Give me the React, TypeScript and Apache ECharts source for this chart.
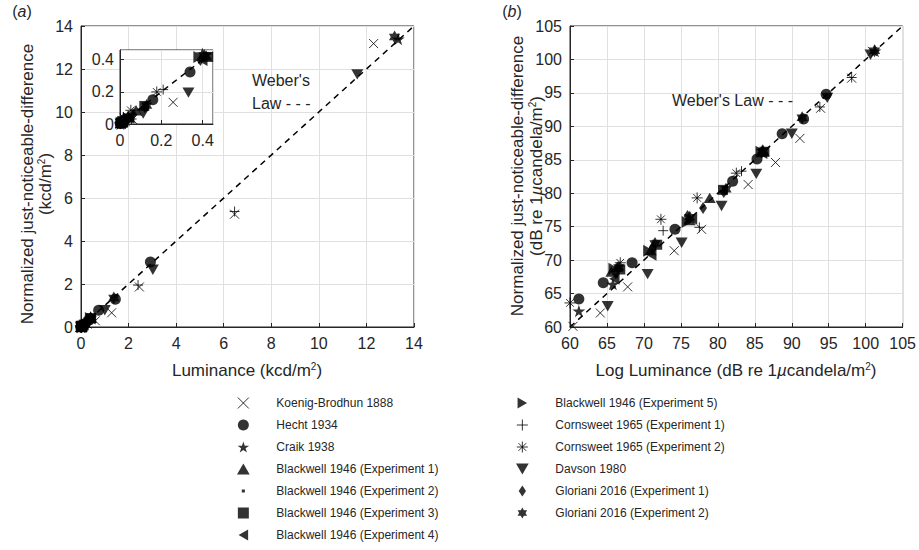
import React, { useEffect, useRef } from "react";
import * as echarts from "echarts";

const FONT = "'Liberation Sans', Arial, Helvetica, sans-serif";
const INK = "#262626";
const GRIDC = "#e0e0e0";

// ---- data (dB re 1 µcd/m²) : [log luminance, normalized JND] ----
const seriesNames = [
  "Koenig-Brodhun 1888",
  "Hecht 1934",
  "Craik 1938",
  "Blackwell 1946 (Experiment 1)",
  "Blackwell 1946 (Experiment 2)",
  "Blackwell 1946 (Experiment 3)",
  "Blackwell 1946 (Experiment 4)",
  "Blackwell 1946 (Experiment 5)",
  "Cornsweet 1965 (Experiment 1)",
  "Cornsweet 1965 (Experiment 2)",
  "Davson 1980",
  "Gloriani 2016 (Experiment 1)",
  "Gloriani 2016 (Experiment 2)",
];

const koenig = [[60.4, 60.1], [64.1, 62.1], [67.8, 66.0], [74.1, 71.4], [77.8, 74.6], [84.1, 81.3], [87.8, 84.6], [91.1, 88.2], [93.9, 92.7], [98.1, 97.2], [100.9, 101.2]];
const hecht = [[61.2, 64.2], [64.5, 66.6], [68.4, 69.6], [74.2, 74.6], [82.0, 81.8], [85.3, 85.1], [88.7, 88.9], [91.6, 91.1], [94.65, 94.8]];
const craik = [[61.2, 62.4], [65.8, 66.4], [86.0, 86.4], [101.25, 101.27]];
const blackwell1 = [[65.6, 68.3], [66.4, 69.0], [70.9, 71.5], [76.2, 76.0], [78.9, 79.3], [86.2, 86.3]];
const blackwell2 = [[66.3, 67.6], [71.4, 72.1], [76.1, 76.4], [81.2, 81.0], [86.1, 86.4]];
const blackwell3 = [[66.8, 68.6], [71.8, 72.3], [80.7, 80.5], [86.3, 86.2]];
const blackwell4 = [[66.0, 67.2], [71.0, 70.8], [76.5, 76.2], [86.0, 86.0]];
const blackwell5 = [[65.9, 68.7], [70.6, 71.4], [75.8, 75.7], [85.8, 86.2]];
const cornsweet1 = [[72.6, 74.4], [77.5, 74.9], [83.2, 83.3], [93.8, 92.9], [98.1, 97.3]];
const cornsweet2 = [[60.0, 63.6], [66.8, 69.6], [72.3, 76.1], [77.2, 79.3], [82.5, 83.0]];
const davson = [[65.1, 63.1], [70.5, 67.9], [75.1, 72.6], [80.5, 78.1], [85.2, 82.9], [90.0, 88.9], [94.8, 94.25], [100.65, 100.7]];
const gloriani1 = [[66.2, 68.0], [71.2, 71.9], [75.9, 76.6], [78.0, 77.8], [80.8, 80.2], [85.9, 86.0]];
const gloriani2 = [[66.6, 68.9], [71.5, 72.5], [76.2, 76.4], [81.1, 80.6], [86.1, 86.3], [91.4, 91.3], [101.2, 101.3]];

const allData = [koenig, hecht, craik, blackwell1, blackwell2, blackwell3, blackwell4, blackwell5, cornsweet1, cornsweet2, davson, gloriani1, gloriani2];

// axis ranges [min, max, interval]
const linRange = [0, 14, 2];
const insetXRange = [0, 0.45, 0.2];
const insetYRange = [0, 0.46, 0.2];
const dbRange = [60, 105, 5];

// dB re 1 µcd/m²  ->  kcd/m²  (1 kcd/m² = 90 dB)
const dbToKcd = (d: number) => Math.pow(10, (d - 90) / 10);

// ---- marker shapes ----
function starPath(n: number, rOut: number, rIn: number) {
  let d = "";
  for (let i = 0; i < 2 * n; i++) {
    const a = -Math.PI / 2 + (i * Math.PI) / n;
    const r = i % 2 === 0 ? rOut : rIn;
    d += (i === 0 ? "M" : "L") + (10 + r * Math.cos(a)).toFixed(2) + "," + (10 + r * Math.sin(a)).toFixed(2);
  }
  return "path://" + d + "Z";
}
const CROSS = "path://M0,0L10,10M10,0L0,10";
const PLUS = "path://M5,0L5,10M0,5L10,5";
const ASTER = "path://M5,0L5,10M0,5L10,5M1.5,1.5L8.5,8.5M8.5,1.5L1.5,8.5";
const STAR5 = starPath(5, 10, 3.9);
const HEX = "path://M5,0L9.33,7.5L0.67,7.5Z M5,10L0.67,2.5L9.33,2.5Z";
const TRI_UP = "path://M5,0L10,8.66L0,8.66Z";
const TRI_DOWN = "path://M0,0L10,0L5,8.66Z";
const TRI_LEFT = "path://M8.66,0L8.66,10L0,5Z";
const TRI_RIGHT = "path://M0,0L0,10L8.66,5Z";
const SQUARE = "path://M0,0L10,0L10,10L0,10Z";
const DIAMOND = "path://M4,0L8,6L4,12L0,6Z";
const DOT_ICON = "path://M0,0L0.01,0M10,10L10.01,10M3.6,3.6L6.4,3.6L6.4,6.4L3.6,6.4Z";

const markerStyles: any[] = [
  { symbol: CROSS, size: 9, hollow: true },
  { symbol: "circle", size: 11 },
  { symbol: STAR5, size: 13 },
  { symbol: TRI_UP, size: 12 },
  { symbol: SQUARE, size: 3, legendIcon: DOT_ICON },
  { symbol: SQUARE, size: 10 },
  { symbol: TRI_LEFT, size: 12 },
  { symbol: TRI_RIGHT, size: 12 },
  { symbol: PLUS, size: 10, hollow: true },
  { symbol: ASTER, size: 11, hollow: true },
  { symbol: TRI_DOWN, size: 12 },
  { symbol: DIAMOND, size: 12 },
  { symbol: HEX, size: 13 },
];

const itemStyleFor = (s: any) =>
  s.hollow
    ? { color: "transparent", borderColor: "#000", borderWidth: 1 }
    : { color: "#000", borderColor: "#000", borderWidth: 0 };

function axisCfg(r: number[], grid: number, opts: any = {}) {
  return {
    type: "value",
    gridIndex: grid,
    min: r[0],
    max: r[1],
    interval: r[2],
    axisLine: { show: true, onZero: false, lineStyle: { color: INK, width: 1 } },
    axisTick: { show: true, inside: true, length: 4, lineStyle: { color: INK } },
    splitLine: { show: true, lineStyle: { color: GRIDC, width: 1 } },
    axisLabel: { fontSize: 16, color: INK, fontFamily: FONT, margin: opts.margin ?? 8, showMaxLabel: opts.showMax !== false },
    ...opts.extra,
  };
}

export default function App() {
  const ref = useRef<HTMLDivElement>(null);
  useEffect(() => {
    if (!ref.current) return;
    const chart = echarts.init(ref.current, null, { renderer: "svg" });

    const panels = [
      { xi: 0, yi: 0, conv: dbToKcd, keep: (p: number[]) => true, z: 2 },
      { xi: 1, yi: 1, conv: dbToKcd, keep: (p: number[]) => p[0] <= insetXRange[1] && p[1] <= insetYRange[1], z: 7 },
      { xi: 2, yi: 2, conv: (d: number) => d, keep: (p: number[]) => true, z: 2 },
    ];

    const series: any[] = [];
    panels.forEach((pn, k) => {
      const lim = k === 2 ? [dbRange[0], dbRange[1]] : k === 1 ? [0, insetXRange[1]] : [linRange[0], linRange[1]];
      series.push({
        type: "line",
        xAxisIndex: pn.xi,
        yAxisIndex: pn.yi,
        data: [[lim[0], lim[0]], [lim[1], lim[1]]],
        symbol: "none",
        silent: true,
        z: pn.z - 1,
        lineStyle: { color: "#000", width: 1.5, type: [6, 5] },
      });
    });
    allData.forEach((arr, i) => {
      const st = markerStyles[i];
      panels.forEach((pn) => {
        series.push({
          type: "scatter",
          name: seriesNames[i],
          xAxisIndex: pn.xi,
          yAxisIndex: pn.yi,
          symbol: st.symbol,
          symbolSize: st.size,
          symbolKeepAspect: true,
          z: pn.z,
          itemStyle: itemStyleFor(st),
          data: arr.map((p) => [pn.conv(p[0]), pn.conv(p[1])]).filter(pn.keep),
        });
      });
    });

    const legendItem = (i: number) => ({
      name: seriesNames[i],
      icon: markerStyles[i].legendIcon || markerStyles[i].symbol,
      itemStyle: itemStyleFor(markerStyles[i]),
    });
    const legendCommon = {
      orient: "vertical",
      itemWidth: 56,
      itemHeight: 11,
      itemGap: 8,
      height: 175,
      padding: 0,
      selectedMode: false,
      textStyle: { fontSize: 12, color: INK, fontFamily: FONT, lineHeight: 14 },
    };

    const richBase = {
      sup: { fontSize: 10, verticalAlign: "top", fontFamily: FONT, fill: INK, color: INK, lineHeight: 10 },
      mu: { fontSize: 17, fontStyle: "italic", fontFamily: FONT, fill: INK, color: INK },
      it: { fontSize: 16, fontStyle: "italic", fontFamily: FONT, fill: INK, color: INK },
    };
    const txt = (text: string, x: number, y: number, extra: any = {}, rot = 0) => ({
      type: "text",
      x,
      y,
      rotation: rot,
      z: 20,
      style: {
        text,
        fontSize: 17,
        fontFamily: FONT,
        fill: INK,
        align: "center",
        verticalAlign: "middle",
        rich: richBase,
        ...extra,
      },
    });

    const option: any = {
      animation: false,
      backgroundColor: "#fff",
      grid: [
        { left: 81, top: 26, width: 333, height: 301, show: true, borderColor: INK, borderWidth: 1, backgroundColor: "#fff" },
        { left: 120, top: 50, width: 93, height: 74, show: true, borderColor: INK, borderWidth: 1, backgroundColor: "#fff", z: 4 },
        { left: 570, top: 26, width: 333, height: 301, show: true, borderColor: INK, borderWidth: 1, backgroundColor: "#fff" },
      ],
      xAxis: [
        axisCfg(linRange, 0),
        axisCfg(insetXRange, 1, { showMax: false, extra: { z: 5 } }),
        axisCfg(dbRange, 2),
      ],
      yAxis: [
        axisCfg(linRange, 0),
        axisCfg(insetYRange, 1, { showMax: false, margin: 6, extra: { z: 5 } }),
        axisCfg(dbRange, 2),
      ],
      legend: [
        { ...legendCommon, left: 237, top: 396, data: [0, 1, 2, 3, 4, 5, 6].map(legendItem) },
        { ...legendCommon, left: 516, top: 396, data: [7, 8, 9, 10, 11, 12].map(legendItem) },
      ],
      graphic: [
        txt("({it|a})", 22, 11, { fontSize: 16 }),
        txt("({it|b})", 512, 11, { fontSize: 16 }),
        txt("Luminance (kcd/m{sup|2})", 247, 370),
        txt("Log Luminance (dB re 1{mu|µ}candela/m{sup|2})", 736, 370),
        txt("Normalized just-noticeable-difference", 27, 184, {}, Math.PI / 2),
        txt("(kcd/m{sup|2})", 45, 184, {}, Math.PI / 2),
        txt("Normalized just-noticeable-difference", 517, 176, {}, Math.PI / 2),
        txt("(dB re 1{mu|µ}candela/m{sup|2})", 536, 176, {}, Math.PI / 2),
        txt("Weber's", 252, 80, { align: "left", fontSize: 16 }),
        txt("Law - - -", 252, 103, { align: "left", fontSize: 16 }),
        txt("Weber's Law - - -", 672, 100, { align: "left", fontSize: 16 }),
      ],
      series,
    };
    chart.setOption(option);
    return () => chart.dispose();
  }, []);
  return <div ref={ref} style={{ width: 919, height: 550, position: "absolute", left: 0, top: 0 }} />;
}
